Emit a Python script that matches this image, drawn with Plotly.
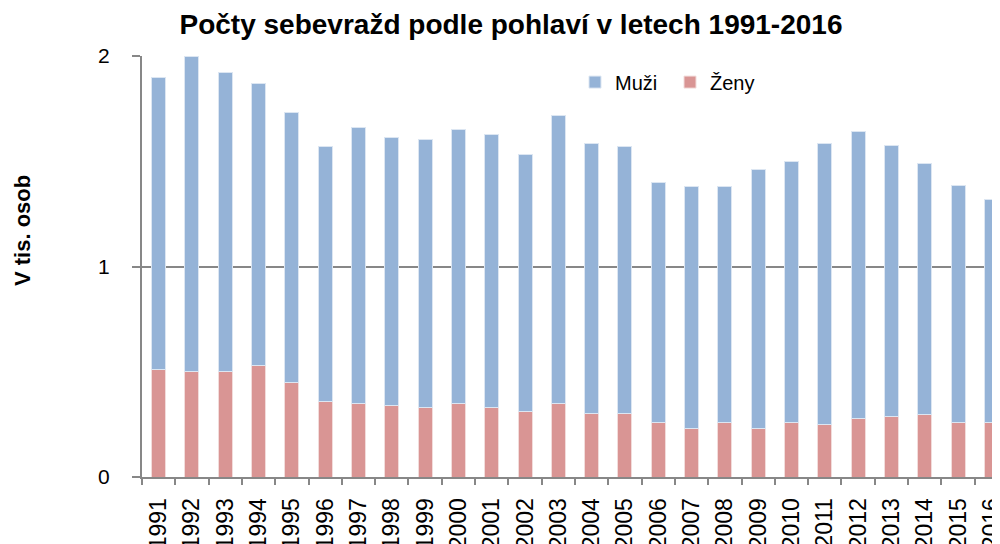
import plotly.graph_objects as go

years = [str(y) for y in range(1991, 2017)]
zeny = [0.51, 0.50, 0.50, 0.53, 0.45, 0.36, 0.35, 0.34, 0.33, 0.35, 0.33, 0.31, 0.35,
        0.30, 0.30, 0.26, 0.23, 0.26, 0.23, 0.26, 0.25, 0.276, 0.286, 0.295, 0.258, 0.258]
muzi = [1.39, 1.50, 1.42, 1.34, 1.28, 1.21, 1.31, 1.275, 1.275, 1.30, 1.295, 1.22, 1.365,
        1.285, 1.27, 1.14, 1.15, 1.12, 1.23, 1.24, 1.335, 1.364, 1.289, 1.195, 1.127, 1.062]

BLUE = "#95B3D7"
RED = "#D99594"
GRID = "#878787"
FONT = "Liberation Sans, Arial, sans-serif"

fig = go.Figure()
fig.add_trace(go.Bar(x=years, y=zeny, name="Ženy",
                     marker=dict(color=RED, line=dict(color="#F2DCDB", width=1))))
fig.add_trace(go.Bar(x=years, y=muzi, name="Muži",
                     marker=dict(color=BLUE, line=dict(color="#DCE6F2", width=1))))

fig.update_layout(
    width=1000, height=544,
    barmode="stack", bargap=0.58,
    plot_bgcolor="white", paper_bgcolor="white",
    margin=dict(l=134, r=0, t=48, b=75, autoexpand=False),
    font=dict(family=FONT, color="black"),
    title=dict(text="<b>Počty sebevražd podle pohlaví v letech 1991-2016</b>",
               x=0.503, xanchor="center", y=1 - 16 / 544, yanchor="middle",
               font=dict(size=28, family=FONT, color="black")),
    legend=dict(orientation="h", traceorder="reversed", x=0.5, xanchor="left",
                y=0.938, yanchor="middle", font=dict(size=20, family=FONT),
                bgcolor="rgba(0,0,0,0)", itemwidth=30, entrywidth=50,
                borderwidth=0),
    showlegend=True,
)
fig.update_xaxes(
    type="category", range=[-0.5, 25.5], tickangle=-90,
    tickfont=dict(size=23, family=FONT), ticks="outside", tickson="boundaries",
    ticklen=6, tickcolor=GRID, tickwidth=2, showline=True, linecolor=GRID, linewidth=2,
    showgrid=False, automargin=False, ticklabelstandoff=10,
)
fig.update_yaxes(
    range=[0, 2], tickvals=[0, 1, 2], ticktext=["0", "1", "2"],
    tickfont=dict(size=21, family=FONT), ticks="outside", ticklen=8, tickcolor=GRID,
    tickwidth=2, showline=True, linecolor=GRID, linewidth=2, showgrid=True,
    gridcolor=GRID, gridwidth=2, zeroline=False, automargin=False,
    ticklabelstandoff=18,
)
fig.add_annotation(text="<b>V tis. osob</b>", xref="paper", yref="paper",
                   x=(14 - 134) / 866, y=(469 - 223) / 421,
                   xanchor="center", yanchor="middle",
                   textangle=-90, showarrow=False, font=dict(size=22, family=FONT))

fig.write_html("out.html")
